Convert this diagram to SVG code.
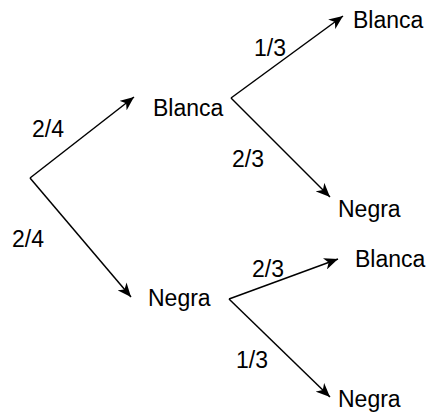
<svg xmlns="http://www.w3.org/2000/svg" width="431" height="414" viewBox="0 0 431 414">
<style>
text{font-family:"Liberation Sans",Arial,sans-serif;font-size:23px;fill:#000}
.e{fill:none;stroke:#000;stroke-width:1.5}
</style>
<defs>
<marker id="a" markerUnits="userSpaceOnUse" markerWidth="16" markerHeight="12" viewBox="0 0 16 12" refX="14" refY="6" orient="auto">
<path d="M0,0 L14,6 L0,12 L4,6 z" fill="#000"/>
</marker>
</defs>
<rect width="431" height="414" fill="#fff"/>
<g id="connectors">
<path class="e" d="M30,178 L134,97" marker-end="url(#a)"/>
<path class="e" d="M30,178 L131,297" marker-end="url(#a)"/>
<path class="e" d="M231,98 L343,16" marker-end="url(#a)"/>
<path class="e" d="M231,98 L330,197" marker-end="url(#a)"/>
<path class="e" d="M229,299 L338,259" marker-end="url(#a)"/>
<path class="e" d="M229,299 L330,397" marker-end="url(#a)"/>
<text x="32" y="137">2/4</text>
<text x="12" y="247">2/4</text>
<text x="254" y="56">1/3</text>
<text x="232" y="167">2/3</text>
<text x="252" y="277">2/3</text>
<text x="236" y="368">1/3</text>
</g>
<g id="n1"><text x="153" y="116">Blanca</text></g>
<g id="n2"><text x="148" y="306">Negra</text></g>
<g id="n3"><text x="353" y="28">Blanca</text></g>
<g id="n4"><text x="338" y="217">Negra</text></g>
<g id="n5"><text x="355" y="267">Blanca</text></g>
<g id="n6"><text x="338" y="407">Negra</text></g>
</svg>
